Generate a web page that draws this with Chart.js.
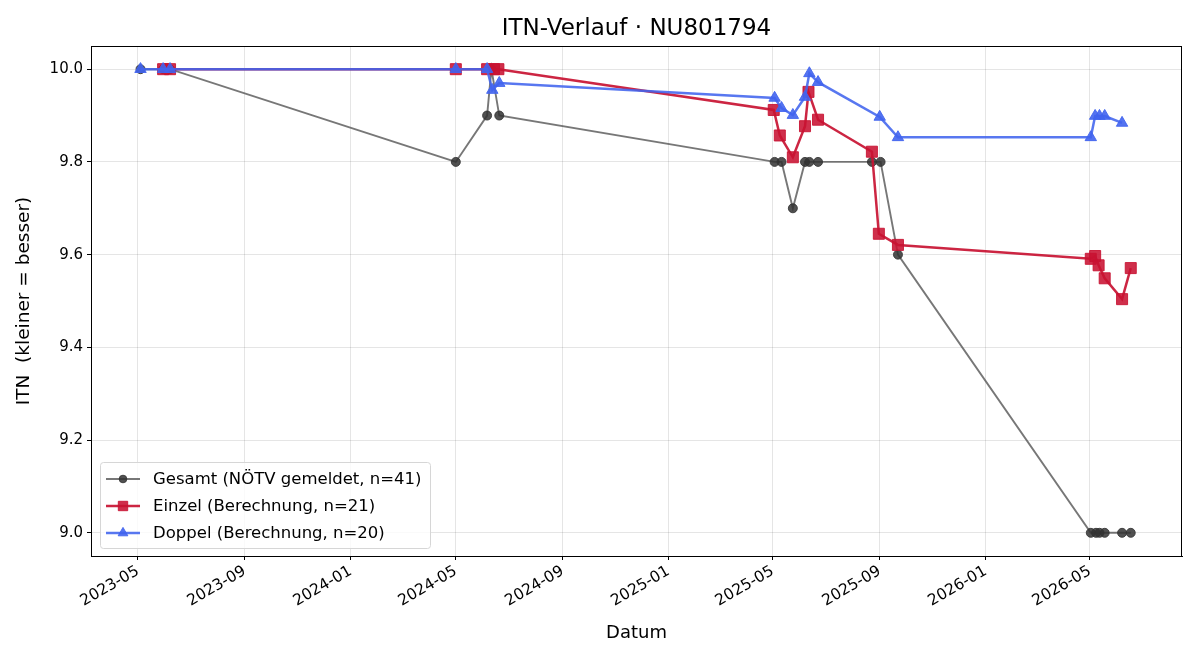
<!DOCTYPE html>
<html>
<head>
<meta charset="utf-8">
<script src="https://cdn.jsdelivr.net/npm/chart.js@4.4.1/dist/chart.umd.min.js"></script>
<style>
  html, body { margin: 0; padding: 0; background: #fff; }
  #wrap { width: 1200px; height: 660px; }
</style>
</head>
<body>
<div id="wrap"><canvas id="chart" width="1200" height="660"></canvas></div>
<script>
// ---- data ----
const gesamtDates = ['2023-05-04','2023-05-30','2023-06-07','2024-05-01','2024-06-06','2024-06-11','2024-06-20',
  '2025-05-03','2025-05-11','2025-05-24','2025-06-07','2025-06-12','2025-06-22','2025-08-23','2025-09-02','2025-09-22',
  '2026-05-02','2026-05-08','2026-05-12','2026-05-18','2026-06-07','2026-06-17'];
const gesamtValues = [10.0, 10.0, 10.0, 9.8, 9.9, 10.0, 9.9,
  9.8, 9.8, 9.7, 9.8, 9.8, 9.8, 9.8, 9.8, 9.6,
  9.0, 9.0, 9.0, 9.0, 9.0, 9.0];

const einzelDates = ['2023-05-30','2023-06-07','2024-05-01','2024-06-06','2024-06-14','2024-06-19',
  '2025-05-02','2025-05-09','2025-05-24','2025-06-07','2025-06-11','2025-06-22','2025-08-23','2025-08-31','2025-09-22',
  '2026-05-02','2026-05-07','2026-05-11','2026-05-18','2026-06-07','2026-06-17'];
const einzelValues = [10.0, 10.0, 10.0, 10.0, 10.0, 10.0,
  9.912, 9.857, 9.810, 9.877, 9.951, 9.891, 9.822, 9.645, 9.621,
  9.591, 9.597, 9.577, 9.549, 9.504, 9.571];

const doppelDates = ['2023-05-04','2023-05-30','2023-06-07','2024-05-01','2024-06-06','2024-06-12','2024-06-20',
  '2025-05-03','2025-05-11','2025-05-24','2025-06-07','2025-06-12','2025-06-22','2025-09-01','2025-09-22',
  '2026-05-02','2026-05-07','2026-05-12','2026-05-18','2026-06-07'];
const doppelValues = [10.0, 10.0, 10.0, 10.0, 10.0, 9.955, 9.970,
  9.938, 9.916, 9.901, 9.940, 9.991, 9.972, 9.897, 9.853,
  9.853, 9.899, 9.899, 9.899, 9.884];

const xTickLabels = ['2023-05','2023-09','2024-01','2024-05','2024-09','2025-01','2025-05','2025-09','2026-01','2026-05'];
const yTickValues = [9.0, 9.2, 9.4, 9.6, 9.8, 10.0];

const seriesLabels = ['Gesamt (NÖTV gemeldet, n=41)', 'Einzel (Berechnung, n=21)', 'Doppel (Berechnung, n=20)'];

// days since epoch, no date adapter available
function toDay(s) {
  return Date.parse(s + 'T00:00:00Z') / 86400000;
}
function pts(dates, values) {
  return dates.map((d, i) => ({ x: toDay(d), y: values[i] }));
}
function dayLabel(v) {
  const d = new Date(v * 86400000);
  return d.getUTCFullYear() + '-' + String(d.getUTCMonth() + 1).padStart(2, '0');
}

const FONT = 'DejaVu Sans';

// title, top/right spines and legend box like matplotlib
const extras = {
  id: 'extras',
  afterDraw(chart) {
    const ctx = chart.ctx;
    const a = chart.chartArea;
    ctx.save();
    ctx.strokeStyle = '#000';
    ctx.lineWidth = 1;
    ctx.strokeRect(a.left + 0.5, a.top + 0.5, a.right - a.left - 1, a.bottom - a.top);

    ctx.fillStyle = '#000';
    ctx.font = '23px "' + FONT + '"';
    ctx.textAlign = 'center';
    ctx.textBaseline = 'middle';
    ctx.fillText('ITN-Verlauf · NU801794', (a.left + a.right) / 2, 29);

    // legend
    const bx = 100, by = 462, bw = 330, bh = 86;
    ctx.fillStyle = 'rgba(255,255,255,0.8)';
    ctx.strokeStyle = '#d6d6d6';
    ctx.beginPath();
    ctx.roundRect(bx + 0.5, by + 0.5, bw, bh, 3);
    ctx.fill();
    ctx.stroke();
    ctx.font = '16.5px "' + FONT + '"';
    ctx.textAlign = 'left';
    chart.data.datasets.forEach((ds, i) => {
      const y = by + 17 + i * 27;
      ctx.strokeStyle = ds.borderColor;
      ctx.lineWidth = ds.borderWidth;
      ctx.beginPath();
      ctx.moveTo(106, y);
      ctx.lineTo(140, y);
      ctx.stroke();
      ctx.fillStyle = ds.pointBackgroundColor;
      ctx.strokeStyle = ds.pointBorderColor;
      ctx.lineWidth = 1;
      Chart.helpers.drawPoint(ctx, { pointStyle: ds.pointStyle, radius: ds.pointRadius * 0.85, rotation: 0, borderWidth: 1 }, 123, y);
      ctx.fillStyle = '#000';
      ctx.fillText(ds.label, 153, y + 1);
    });
    ctx.restore();
  }
};

const ctx = document.getElementById('chart');
const chart = new Chart(ctx, {
  type: 'line',
  data: {
    datasets: [{
      label: seriesLabels[0],
      data: pts(gesamtDates, gesamtValues),
      borderColor: 'rgba(85,85,85,0.8)',
      borderWidth: 1.9,
      pointStyle: 'circle',
      pointRadius: 4.5,
      pointBackgroundColor: 'rgba(50,50,50,0.85)',
      pointBorderColor: 'rgba(50,50,50,0.85)',
      pointBorderWidth: 1,
      tension: 0,
      order: 3
    }, {
      label: seriesLabels[1],
      data: pts(einzelDates, einzelValues),
      borderColor: 'rgba(200,18,50,0.92)',
      borderWidth: 2.5,
      pointStyle: 'rect',
      pointRadius: 7.8,
      pointBackgroundColor: 'rgba(200,18,50,0.88)',
      pointBorderColor: 'rgba(200,18,50,0.88)',
      pointBorderWidth: 1,
      tension: 0,
      order: 2
    }, {
      label: seriesLabels[2],
      data: pts(doppelDates, doppelValues),
      borderColor: 'rgba(65,100,238,0.88)',
      borderWidth: 2.5,
      pointStyle: 'triangle',
      pointRadius: 6.6,
      pointBackgroundColor: 'rgba(65,100,238,0.9)',
      pointBorderColor: 'rgba(65,100,238,0.9)',
      pointBorderWidth: 1,
      tension: 0,
      order: 1
    }]
  },
  options: {
    responsive: false,
    animation: false,
    layout: { padding: { left: 0, right: 18, top: 46, bottom: 0 } },
    plugins: {
      legend: { display: false },
      tooltip: { enabled: false }
    },
    scales: {
      x: {
        type: 'linear',
        min: toDay('2023-03-08'),
        max: toDay('2026-08-15'),
        afterBuildTicks(s) {
          s.ticks = xTickLabels.map(l => ({ value: toDay(l + '-01') }));
        },
        afterFit(s) { s.height = 104; },
        ticks: {
          callback: v => dayLabel(v),
          minRotation: 30,
          maxRotation: 30,
          autoSkip: false,
          color: '#000',
          padding: 2,
          font: { family: FONT, size: 15.5 }
        },
        grid: { color: 'rgba(0,0,0,0.1)', tickColor: '#000', tickLength: 4 },
        border: { color: '#000', width: 1 },
        title: {
          display: true,
          text: 'Datum',
          color: '#000',
          padding: { top: 16, bottom: 16 },
          font: { family: FONT, size: 18 }
        }
      },
      y: {
        min: 8.95,
        max: 10.05,
        afterBuildTicks(s) {
          s.ticks = yTickValues.map(v => ({ value: v }));
        },
        afterFit(s) { s.width = 91; },
        ticks: {
          callback: v => v.toFixed(1),
          color: '#000',
          padding: 4,
          font: { family: FONT, size: 15 }
        },
        grid: { color: 'rgba(0,0,0,0.1)', tickColor: '#000', tickLength: 4 },
        border: { color: '#000', width: 1 },
        title: {
          display: true,
          text: 'ITN  (kleiner = besser)',
          color: '#000',
          padding: { top: 13, bottom: 13 },
          font: { family: FONT, size: 18.5 }
        }
      }
    }
  },
  plugins: [extras]
});
</script>
</body>
</html>
